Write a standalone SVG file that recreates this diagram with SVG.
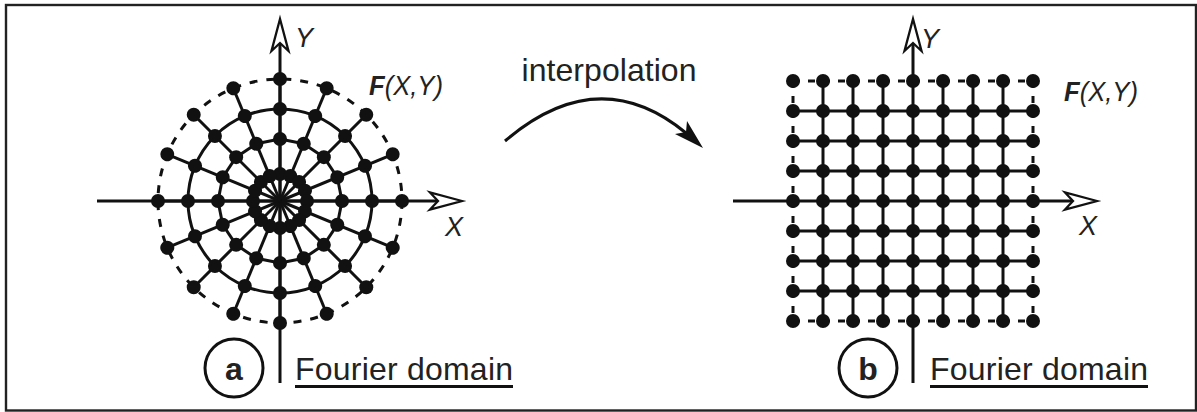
<svg xmlns="http://www.w3.org/2000/svg" xmlns:xlink="http://www.w3.org/1999/xlink" width="1197" height="412" viewBox="0 0 1197 412">
<style>
.ln{stroke:#111;stroke-width:3;fill:none}
.dash{stroke:#111;stroke-width:3;fill:none;stroke-dasharray:8 9}
.dot{fill:#111}
.head{fill:#fff;stroke:#111;stroke-width:2.3;stroke-linejoin:miter}
.t{font-family:"Liberation Sans",Arial,Helvetica,sans-serif;fill:#222}
.it{font-style:italic}
</style>
<defs>
<g id="spoke">
<line class="ln" x1="0" y1="0" x2="0" y2="-122" stroke-width="2.8"/>
<line class="ln" x1="0" y1="-62" x2="23.73" y2="-57.28"/>
<circle class="dot" cx="0" cy="-27" r="7"/>
<circle class="dot" cx="0" cy="-62" r="7"/>
<circle class="dot" cx="0" cy="-92" r="7"/>
<circle class="dot" cx="0" cy="-122" r="7"/>
</g>
<path id="ahead" class="head" d="M0,0 L-32,-8.5 L-24,0 L-32,8.5 Z"/>
<g id="row">
<circle class="dot" cx="0" cy="0" r="7"/>
<circle class="dot" cx="30" cy="0" r="7"/>
<circle class="dot" cx="60" cy="0" r="7"/>
<circle class="dot" cx="90" cy="0" r="7"/>
<circle class="dot" cx="120" cy="0" r="7"/>
<circle class="dot" cx="150" cy="0" r="7"/>
<circle class="dot" cx="180" cy="0" r="7"/>
<circle class="dot" cx="210" cy="0" r="7"/>
<circle class="dot" cx="240" cy="0" r="7"/>
</g>
</defs>
<rect x="6" y="5" width="1190" height="405.5" fill="#fff" stroke="#222" stroke-width="2.4"/>

<g id="panel-a">
<line class="ln" x1="97" y1="201" x2="438" y2="201"/>
<line class="ln" x1="280" y1="383" x2="280" y2="43"/>
<circle class="dash" cx="280" cy="201" r="122"/>
<circle class="ln" cx="280" cy="201" r="92"/>
<circle class="ln" cx="280" cy="201" r="27" stroke-width="10"/>
<g transform="translate(280,201)">
<use xlink:href="#spoke"/>
<use xlink:href="#spoke" transform="rotate(22.5)"/>
<use xlink:href="#spoke" transform="rotate(45)"/>
<use xlink:href="#spoke" transform="rotate(67.5)"/>
<use xlink:href="#spoke" transform="rotate(90)"/>
<use xlink:href="#spoke" transform="rotate(112.5)"/>
<use xlink:href="#spoke" transform="rotate(135)"/>
<use xlink:href="#spoke" transform="rotate(157.5)"/>
<use xlink:href="#spoke" transform="rotate(180)"/>
<use xlink:href="#spoke" transform="rotate(202.5)"/>
<use xlink:href="#spoke" transform="rotate(225)"/>
<use xlink:href="#spoke" transform="rotate(247.5)"/>
<use xlink:href="#spoke" transform="rotate(270)"/>
<use xlink:href="#spoke" transform="rotate(292.5)"/>
<use xlink:href="#spoke" transform="rotate(315)"/>
<use xlink:href="#spoke" transform="rotate(337.5)"/>
</g>
<use xlink:href="#ahead" transform="translate(462,201)"/>
<use xlink:href="#ahead" transform="translate(280,19) rotate(-90)"/>
<text class="t it" x="295" y="47" font-size="27">Y</text>
<text class="t it" x="445" y="236" font-size="27">X</text>
<text class="t it" x="369" y="95" font-size="28" textLength="74" lengthAdjust="spacingAndGlyphs"><tspan font-weight="bold">F</tspan>(X,Y)</text>
</g>

<g id="label-a">
<circle class="ln" cx="234" cy="368" r="29" stroke-width="2.3"/>
<text class="t" x="234" y="380" font-size="32" font-weight="bold" text-anchor="middle">a</text>
<text class="t" x="295" y="380" font-size="32" textLength="218" lengthAdjust="spacing">Fourier domain</text>
<line class="ln" x1="295" y1="386.5" x2="513" y2="386.5" stroke-width="2.5"/>
</g>

<g id="connectors">
<path class="ln" d="M505,141 Q598.5,61 686,133"/>
<path d="M703,148 L687,121 L686,132 L675,134 Z" fill="#111"/>
</g>
<text class="t" x="609" y="81" font-size="32" text-anchor="middle" textLength="175" lengthAdjust="spacing">interpolation</text>

<g id="panel-b">
<line class="ln" x1="733" y1="201" x2="1073" y2="201"/>
<line class="ln" x1="913" y1="383" x2="913" y2="43"/>
<g class="ln">
<line x1="793" y1="111" x2="1033" y2="111"/>
<line x1="793" y1="141" x2="1033" y2="141"/>
<line x1="793" y1="171" x2="1033" y2="171"/>
<line x1="793" y1="231" x2="1033" y2="231"/>
<line x1="793" y1="261" x2="1033" y2="261"/>
<line x1="793" y1="291" x2="1033" y2="291"/>
<line x1="823" y1="81" x2="823" y2="321"/>
<line x1="853" y1="81" x2="853" y2="321"/>
<line x1="883" y1="81" x2="883" y2="321"/>
<line x1="943" y1="81" x2="943" y2="321"/>
<line x1="973" y1="81" x2="973" y2="321"/>
<line x1="1003" y1="81" x2="1003" y2="321"/>
</g>
<g class="dash" style="stroke-dasharray:7 8">
<line x1="793" y1="81" x2="1033" y2="81"/>
<line x1="793" y1="321" x2="1033" y2="321"/>
<line x1="793" y1="81" x2="793" y2="321"/>
<line x1="1033" y1="81" x2="1033" y2="321"/>
</g>
<use xlink:href="#row" transform="translate(793,81)"/>
<use xlink:href="#row" transform="translate(793,111)"/>
<use xlink:href="#row" transform="translate(793,141)"/>
<use xlink:href="#row" transform="translate(793,171)"/>
<use xlink:href="#row" transform="translate(793,201)"/>
<use xlink:href="#row" transform="translate(793,231)"/>
<use xlink:href="#row" transform="translate(793,261)"/>
<use xlink:href="#row" transform="translate(793,291)"/>
<use xlink:href="#row" transform="translate(793,321)"/>
<use xlink:href="#ahead" transform="translate(1097,201)"/>
<use xlink:href="#ahead" transform="translate(913,19) rotate(-90)"/>
<text class="t it" x="921" y="48" font-size="27">Y</text>
<text class="t it" x="1079" y="235" font-size="27">X</text>
<text class="t it" x="1064" y="101" font-size="28" textLength="74" lengthAdjust="spacingAndGlyphs"><tspan font-weight="bold">F</tspan>(X,Y)</text>
</g>

<g id="label-b">
<circle class="ln" cx="868" cy="368" r="29" stroke-width="2.3"/>
<text class="t" x="868" y="380" font-size="32" font-weight="bold" text-anchor="middle">b</text>
<text class="t" x="930" y="380" font-size="32" textLength="218" lengthAdjust="spacing">Fourier domain</text>
<line class="ln" x1="930" y1="386.5" x2="1148" y2="386.5" stroke-width="2.5"/>
</g>
</svg>
